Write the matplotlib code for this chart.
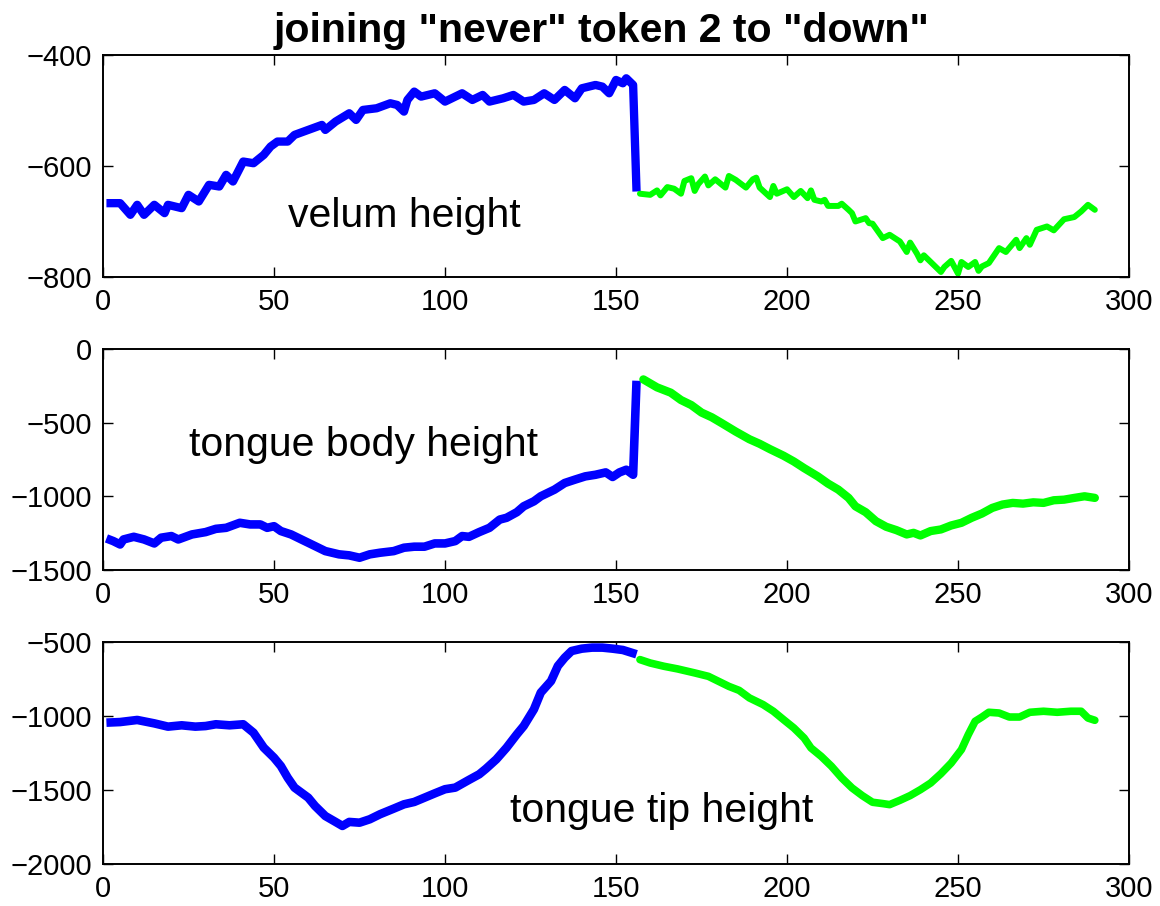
import matplotlib
matplotlib.use("Agg")
import matplotlib.pyplot as plt

plt.rcParams["font.family"] = ["Liberation Sans", "DejaVu Sans"]

# velum height
velum_never_x = [1, 5, 8, 10, 12, 15, 18, 19, 23, 25, 28, 31, 34, 36, 38, 41, 44, 47, 49, 51,
                 54, 56, 60, 64, 65, 68, 72, 74, 76, 80, 84, 86, 88, 89, 91, 93, 97, 100, 103, 105,
                 108, 111, 113, 117, 120, 123, 126, 129, 132, 135, 138, 140, 144, 146, 148, 150, 152, 153, 155, 156]
velum_never_y = [-667, -667, -688, -670, -688, -670, -685, -670, -676, -652, -664, -634, -637, -616, -628, -592,
                 -595, -580, -565, -556, -556, -544, -535, -526, -535, -520, -505, -517, -499, -496, -487, -490,
                 -502, -481, -466, -475, -469, -484, -475, -469, -481, -472, -484, -478, -472, -484, -481, -469,
                 -481, -463, -478, -460, -454, -457, -469, -445, -451, -442, -454, -646]
velum_down_x = [157, 160, 162, 163, 165, 167, 169, 170, 172, 173, 174, 176, 177, 179, 182, 183, 185, 188, 190, 191,
                192, 195, 196, 197, 200, 202, 204, 206, 207, 208, 210, 211, 212, 215, 216, 218, 219, 220, 223, 224,
                225, 228, 230, 233, 235, 236, 238, 239, 240, 242, 245, 246, 248, 250, 251, 253, 255, 256, 257, 259,
                262, 264, 267, 268, 270, 271, 273, 276, 278, 281, 284, 286, 288, 290]
velum_down_y = [-650, -652, -644, -653, -638, -641, -650, -627, -622, -645, -633, -619, -635, -624, -639, -618,
                -625, -639, -624, -621, -639, -656, -636, -650, -642, -656, -645, -658, -644, -661, -664, -661,
                -672, -672, -668, -679, -685, -700, -694, -703, -704, -730, -724, -736, -755, -738, -758, -770,
                -761, -773, -791, -782, -771, -794, -773, -782, -773, -789, -781, -775, -748, -755, -733, -748,
                -730, -742, -715, -709, -716, -696, -692, -682, -670, -679]

# tongue body height
body_never_x = [1, 3, 5, 6, 9, 12, 15, 17, 20, 22, 26, 30, 33, 36, 40, 43, 46, 48, 50, 52,
                55, 58, 62, 65, 69, 72, 75, 78, 81, 85, 88, 91, 94, 97, 100, 103, 105, 107, 110, 113,
                116, 118, 121, 123, 126, 128, 132, 135, 138, 141, 144, 147, 149, 151, 153, 155, 156]
body_never_y = [-1286, -1304, -1327, -1293, -1275, -1293, -1320, -1281, -1270, -1293, -1259, -1243, -1221, -1214,
                -1180, -1191, -1191, -1214, -1203, -1236, -1259, -1293, -1338, -1372, -1394, -1401, -1417, -1394,
                -1383, -1372, -1349, -1342, -1342, -1320, -1320, -1304, -1270, -1275, -1243, -1214, -1158, -1146,
                -1108, -1068, -1034, -1000, -955, -910, -887, -865, -854, -838, -869, -838, -820, -854, -216]
body_down_x = [158, 160, 162, 164, 166, 169, 172, 175, 178, 181, 185, 189, 192, 195, 199, 202, 205, 209, 212, 215,
               218, 220, 223, 226, 229, 232, 235, 237, 239, 242, 245, 248, 251, 254, 257, 260, 263, 266, 269, 272,
               275, 278, 281, 284, 287, 290]
body_down_y = [-207, -234, -261, -279, -297, -347, -381, -432, -464, -505, -561, -613, -644, -680, -725, -764,
               -809, -865, -914, -955, -1011, -1068, -1108, -1169, -1207, -1230, -1259, -1248, -1266, -1236,
               -1225, -1198, -1180, -1146, -1117, -1079, -1056, -1045, -1050, -1041, -1045, -1027, -1023, -1011,
               -1000, -1011]

# tongue tip height
tip_never_x = [1, 5, 10, 15, 19, 23, 27, 30, 33, 37, 41, 44, 47, 50, 52, 54, 56, 60, 62, 65,
               68, 70, 72, 75, 78, 81, 85, 88, 91, 94, 97, 100, 103, 107, 110, 112, 115, 118, 121, 123,
               126, 128, 131, 133, 135, 137, 140, 143, 146, 149, 152, 156]
tip_never_y = [-1045, -1041, -1027, -1050, -1072, -1063, -1072, -1068, -1056, -1063, -1056, -1113, -1214, -1282,
               -1338, -1417, -1484, -1552, -1608, -1676, -1716, -1743, -1716, -1721, -1698, -1664, -1626, -1597,
               -1581, -1552, -1523, -1495, -1484, -1432, -1394, -1356, -1293, -1214, -1124, -1068, -955, -842,
               -764, -662, -606, -561, -545, -538, -538, -545, -554, -583]
tip_down_x = [157, 160, 164, 168, 173, 177, 180, 183, 186, 189, 193, 196, 199, 202, 205, 207, 210, 213, 216, 219,
              222, 225, 228, 230, 233, 236, 239, 242, 245, 248, 251, 253, 255, 257, 259, 262, 265, 268, 271, 275,
              279, 283, 286, 288, 290]
tip_down_y = [-619, -642, -664, -682, -709, -732, -766, -800, -827, -878, -923, -968, -1025, -1081, -1149, -1216,
              -1273, -1340, -1419, -1486, -1538, -1583, -1592, -1599, -1570, -1538, -1498, -1453, -1390, -1318,
              -1227, -1126, -1036, -1007, -975, -980, -1007, -1007, -975, -968, -975, -968, -968, -1014, -1029]

labels = ["velum height", "tongue body height", "tongue tip height"]
label_pos = [(54, -690), (25, -650), (119, -1643)]
ylims = [(-800, -400), (-1500, 0), (-2000, -500)]
yticks = [[-800, -600, -400], [-1500, -1000, -500, 0], [-2000, -1500, -1000, -500]]
blue_lw = [6.0, 6.2, 6.2]
green_lw = [4.3, 6.0, 5.5]

series = [
    (velum_never_x, velum_never_y, velum_down_x, velum_down_y),
    (body_never_x, body_never_y, body_down_x, body_down_y),
    (tip_never_x, tip_never_y, tip_down_x, tip_down_y),
]

# axes boxes in figure fraction (left, bottom, width, height)
boxes = [
    (0.0888, 0.6943, 0.8845, 0.2450),
    (0.0888, 0.3709, 0.8845, 0.2440),
    (0.0888, 0.0464, 0.8845, 0.2450),
]

fig = plt.figure(figsize=(11.6, 9.06), dpi=100)

for i, (bx, by, gx, gy) in enumerate(series):
    ax = fig.add_axes(boxes[i])
    ax.plot(bx, by, color=(0, 0, 1), lw=blue_lw[i], solid_joinstyle="round", solid_capstyle="butt")
    ax.plot(gx, gy, color=(0, 1, 0), lw=green_lw[i], solid_joinstyle="round", solid_capstyle="round")
    ax.set_xlim(0, 300)
    ax.set_ylim(*ylims[i])
    ax.set_xticks([0, 50, 100, 150, 200, 250, 300])
    ax.set_yticks(yticks[i])
    ax.tick_params(direction="in", top=True, right=True, length=7, width=1,
                   labelsize=21, pad=8)
    for s in ax.spines.values():
        s.set_linewidth(1.4)
    ax.text(label_pos[i][0], label_pos[i][1], labels[i], fontsize=29.5,
            ha="left", va="center")
    if i == 0:
        ax.set_title('joining "never" token 2 to "down"', fontsize=29.5,
                     fontweight="bold", pad=9, x=0.486)

fig.savefig("out.png", dpi=100)
